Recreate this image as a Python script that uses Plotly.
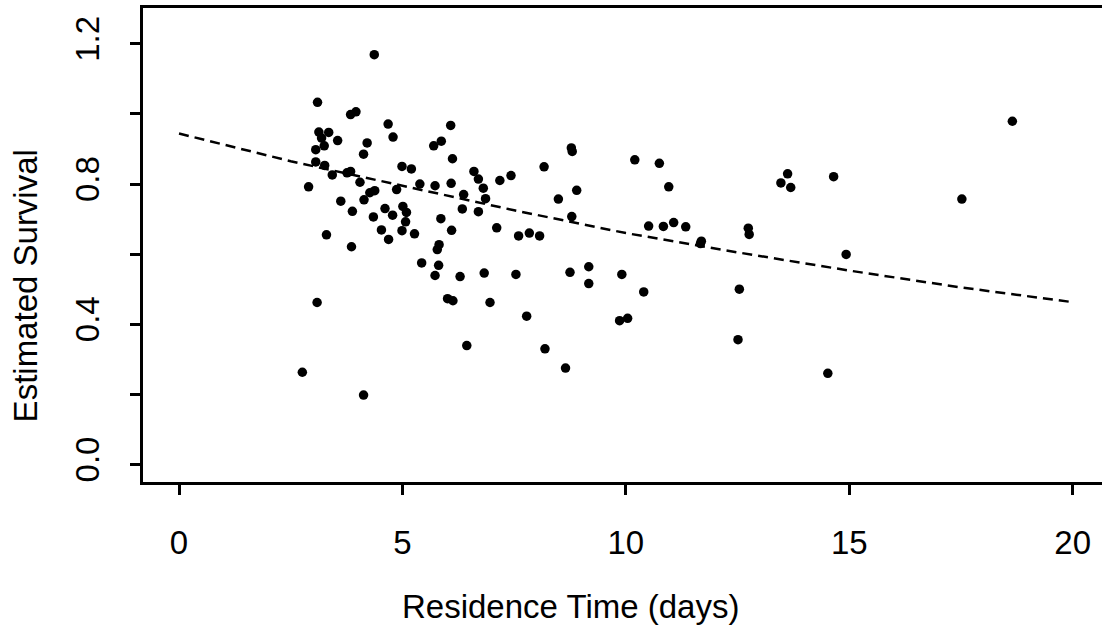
import plotly.graph_objects as go

# Observed points: residence time (days) and estimated survival
res_time = [
    4.37, 3.10, 3.84, 3.96, 4.68, 6.08, 3.13, 3.35, 3.19, 3.55, 4.79, 4.21, 3.25, 5.87, 5.70,
    3.06, 4.13, 6.12, 3.06, 3.26, 4.99, 5.20, 6.60, 7.18, 3.43, 3.76, 3.84, 2.90, 4.05, 4.38,
    4.27, 4.87, 5.39, 5.73, 6.09, 6.37, 6.70, 6.81, 6.86, 3.62, 4.14, 3.88, 4.35, 4.61, 4.78,
    5.01, 5.09, 5.07, 6.34, 6.70, 5.86, 4.53, 4.99, 5.27, 6.10, 7.11, 3.30, 4.69, 3.86, 5.82,
    5.78, 5.43, 5.81, 5.73, 6.29, 6.83, 6.01, 6.13, 6.96, 3.09, 6.44, 2.76, 4.13,
    8.78, 8.80, 10.20, 10.75, 8.17, 7.43, 8.90, 10.96, 8.49, 8.79, 7.60, 7.84, 8.07, 10.51,
    10.84, 11.07, 11.34, 11.67, 11.69, 7.54, 8.75, 9.17, 9.91,
    9.17, 10.40, 12.54, 7.78, 9.86, 10.04, 12.51, 8.19, 8.65,
    18.65, 13.62, 13.47, 13.69, 14.65, 17.52, 12.74, 12.76, 14.93, 14.52,
]
survival = [
    1.169, 1.033, 0.998, 1.006, 0.971, 0.967, 0.948, 0.947, 0.931, 0.924, 0.934, 0.917, 0.909, 0.922, 0.909,
    0.898, 0.885, 0.872, 0.863, 0.853, 0.850, 0.843, 0.836, 0.810, 0.826, 0.832, 0.836, 0.792, 0.805, 0.781,
    0.775, 0.784, 0.800, 0.795, 0.802, 0.770, 0.814, 0.788, 0.758, 0.751, 0.755, 0.722, 0.706, 0.730, 0.711,
    0.736, 0.719, 0.692, 0.729, 0.721, 0.701, 0.669, 0.667, 0.658, 0.668, 0.675, 0.655, 0.642, 0.621, 0.627,
    0.613, 0.575, 0.568, 0.539, 0.536, 0.546, 0.473, 0.467, 0.462, 0.462, 0.339, 0.263, 0.198,
    0.903, 0.893, 0.869, 0.859, 0.849, 0.824, 0.782, 0.792, 0.757, 0.707, 0.652, 0.660, 0.652, 0.680,
    0.679, 0.690, 0.678, 0.630, 0.637, 0.542, 0.548, 0.564, 0.542,
    0.516, 0.492, 0.500, 0.423, 0.410, 0.417, 0.356, 0.330, 0.275,
    0.979, 0.829, 0.803, 0.790, 0.821, 0.757, 0.674, 0.656, 0.599, 0.260,
]

# Fitted curve (dashed)
fit_x = [0, 2.5, 5, 7.5, 10, 12.5, 15, 17.5, 20]
fit_y = [0.944, 0.865, 0.795, 0.725, 0.660, 0.605, 0.553, 0.505, 0.463]

x_ticks = [0, 5, 10, 15, 20]
y_ticks = [0.0, 0.2, 0.4, 0.6, 0.8, 1.0, 1.2]
y_ticktext = ["0.0", "", "0.4", "", "0.8", "", "1.2"]

FONT = "Liberation Sans, Arial, Helvetica, sans-serif"

fig = go.Figure()
fig.add_trace(go.Scatter(
    x=fit_x, y=fit_y, mode="lines",
    line=dict(color="black", width=2.5, dash="10px,6px"),
    hoverinfo="skip",
))
fig.add_trace(go.Scatter(
    x=res_time, y=survival, mode="markers",
    marker=dict(color="black", size=9.5, line=dict(width=0)),
))

fig.update_layout(
    width=1102, height=630,
    margin=dict(l=143, r=0, t=8, b=148),
    paper_bgcolor="white", plot_bgcolor="white",
    showlegend=False,
    font=dict(family=FONT, color="black"),
    xaxis=dict(
        range=[-0.806, 20.656],
        tickvals=x_ticks,
        ticktext=[str(v) for v in x_ticks],
        ticks="outside", ticklen=10, tickwidth=3, tickcolor="black",
        showline=True, linewidth=3, linecolor="black", mirror=True,
        showgrid=False, zeroline=False,
        tickfont=dict(size=33, family=FONT, color="black"),
        ticklabelstandoff=19,
    ),
    yaxis=dict(
        range=[-0.05, 1.302],
        tickvals=y_ticks,
        ticktext=y_ticktext,
        tickangle=-90,
        ticks="outside", ticklen=10, tickwidth=3, tickcolor="black",
        showline=True, linewidth=3, linecolor="black", mirror=False,
        showgrid=False, zeroline=False,
        tickfont=dict(size=33, family=FONT, color="black"),
        ticklabelstandoff=18,
    ),
    annotations=[
        dict(text="Residence Time (days)", xref="paper", yref="paper",
             x=0.446, y=-0.263, xanchor="center", yanchor="middle",
             showarrow=False, font=dict(size=33, family=FONT, color="black")),
        dict(text="Estimated Survival", xref="paper", yref="paper",
             x=-0.1224, y=0.414, xanchor="center", yanchor="middle", textangle=-90,
             showarrow=False, font=dict(size=33, family=FONT, color="black")),
    ],
)

fig.write_html(
    "out.html",
    config={"displayModeBar": False},
    post_script="document.body.style.margin='0';document.body.style.padding='0';",
)
